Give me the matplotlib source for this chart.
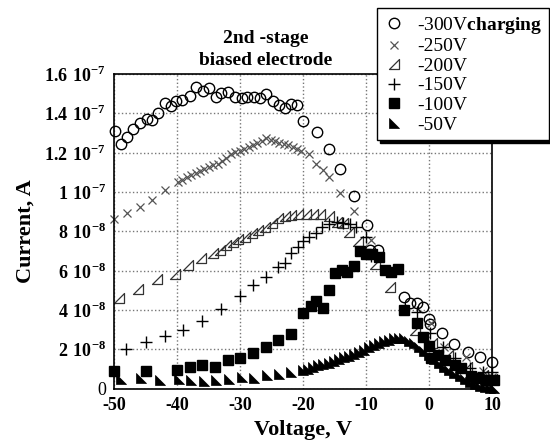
import numpy as np
import matplotlib
matplotlib.use("Agg")
import matplotlib.pyplot as plt
from matplotlib.path import Path

plt.rcParams['font.family'] = ['Liberation Serif', 'DejaVu Serif']
plt.rcParams['mathtext.fontset'] = 'custom'
plt.rcParams['mathtext.rm'] = 'Liberation Serif:bold'
plt.rcParams['mathtext.bf'] = 'Liberation Serif:bold'

# -300V charging (current in units of 1e-8 A)
v300 = [-49.9, -49.0, -48.0, -47.0, -46.0, -44.9, -44.0, -43.0, -42.0, -41.0,
        -40.2, -39.2, -38.0, -37.0, -35.9, -34.9, -33.9, -33.0, -31.9, -30.9,
        -29.8, -29.0, -27.9, -26.9, -25.9, -24.8, -23.9, -22.9, -22.0, -21.0,
        -20.0, -17.9, -16.0, -14.1, -12.0, -9.95, -9.4, -8.1, -4.0, -3.0,
        -2.0, -1.0, 0.0, 0.1, 2.0, 4.0, 6.1, 8.0, 10.0]
i300 = [13.1, 12.44, 12.78, 13.19, 13.49, 13.73, 13.66, 14.03, 14.51, 14.37,
        14.64, 14.68, 14.88, 15.35, 15.12, 15.29, 14.85, 15.02, 15.08, 14.81,
        14.78, 14.81, 14.85, 14.78, 14.98, 14.64, 14.44, 14.27, 14.47, 14.41,
        13.6, 13.05, 12.17, 11.15, 9.8, 8.31, 7.05, 7.05, 4.65, 4.34,
        4.34, 4.14, 3.55, 3.29, 2.81, 2.27, 1.88, 1.62, 1.38]

# -250V
v250 = [-50.0, -48.0, -46.0, -44.0, -42.0, -39.9, -39.2, -38.5, -37.8, -37.1,
        -36.4, -35.7, -35.0, -34.3, -33.6, -32.9, -32.2, -31.5, -30.8, -30.1,
        -29.4, -28.7, -28.0, -27.3, -26.6, -25.9, -25.2, -24.5, -23.8, -23.1,
        -22.4, -21.7, -21.0, -20.3, -19.1, -18.0, -16.9, -16.0, -14.1, -12.0,
        -9.2, 0.3, 2.3, 5.8, 8.5, 10.0]
i250 = [8.63, 8.93, 9.25, 9.59, 10.12, 10.52, 10.62, 10.75, 10.88, 10.97,
        11.05, 11.15, 11.25, 11.35, 11.45, 11.58, 11.75, 11.92, 12.05, 12.08,
        12.2, 12.3, 12.4, 12.5, 12.62, 12.73, 12.65, 12.6, 12.5, 12.45,
        12.38, 12.28, 12.2, 12.1, 11.93, 11.42, 11.12, 10.78, 9.96, 9.05,
        7.56, 3.32, 2.14, 1.6, 0.9, 0.6]

# -200V
v200 = [-49.3, -46.2, -43.25, -40.3, -38.3, -36.3, -34.3, -33.2, -32.2, -31.1,
        -30.3, -29.3, -28.2, -27.2, -26.1, -25.0, -24.0, -22.9, -21.9, -20.8,
        -19.5, -18.4, -17.4, -16.0, -14.7, -13.7, -12.7, -11.3, -8.6, -6.25,
        -2.3, 0.5, 3.0, 6.0, 8.5, 10.0]
i200 = [4.6, 5.05, 5.56, 5.83, 6.29, 6.63, 6.88, 7.05, 7.3, 7.47,
        7.6, 7.73, 7.9, 8.07, 8.24, 8.41, 8.66, 8.78, 8.83, 8.88,
        8.88, 8.88, 8.88, 8.78, 8.49, 8.41, 7.98, 7.52, 6.34, 5.19,
        2.97, 2.3, 1.7, 1.1, 0.7, 0.5]

# -150V
v150 = [-48.1, -45.0, -42.0, -39.1, -36.1, -33.0, -30.1, -28.0, -26.0, -24.1,
        -22.9, -21.9, -20.9, -20.0, -19.1, -18.0, -17.0, -15.9, -14.7, -13.7,
        -12.6, -11.6, -10.1, -9.2, -2.0, 0.1, 2.2, 4.1, 6.45, 8.6, 10.0]
i150 = [2.0, 2.37, 2.68, 2.98, 3.46, 4.07, 4.71, 5.27, 5.69, 6.17,
        6.41, 6.88, 7.19, 7.5, 7.73, 7.93, 8.2, 8.37, 8.49, 8.45,
        8.36, 8.24, 7.73, 6.75, 3.9, 2.82, 2.14, 1.55, 1.04, 0.87, 0.87]

# -100V
v100 = [-50.0, -45.0, -40.0, -38.0, -36.1, -34.0, -32.0, -30.1, -28.0, -26.0,
        -24.1, -22.0, -20.0, -18.8, -18.0, -16.9, -15.9, -15.0, -13.9, -13.0,
        -11.9, -11.0, -10.05, -9.1, -8.0, -7.1, -6.0, -4.9, -3.95, -2.0,
        -0.96, 0.0, 0.25, 1.4, 2.5, 4.1, 5.1, 6.7, 7.8, 9.1, 10.2]
i100 = [0.9, 0.9, 0.95, 1.09, 1.19, 1.12, 1.46, 1.56, 1.83, 2.14,
        2.48, 2.78, 3.86, 4.2, 4.46, 4.12, 5.04, 5.86, 6.06, 5.91,
        6.24, 7.0, 6.83, 6.83, 6.71, 6.04, 5.93, 6.07, 4.0, 3.34,
        2.63, 2.19, 1.56, 1.73, 1.47, 1.22, 1.05, 0.66, 0.54, 0.46, 0.46]

# -50V
v50 = [-48.9, -45.7, -42.8, -39.8, -37.9, -35.7, -33.8, -31.8, -29.7, -27.8,
       -25.8, -23.9, -21.9, -20.0, -19.2, -18.4, -17.6, -16.8, -16.0, -15.2,
       -14.4, -13.6, -12.8, -12.0, -11.2, -10.4, -9.6, -8.8, -8.0, -7.2,
       -6.4, -5.6, -4.8, -4.0, -3.2, -2.4, -1.6, -0.8, 0.0, 0.8,
       1.6, 2.4, 3.2, 4.0, 4.8, 5.6, 6.4, 7.2, 8.0, 8.8, 9.6, 10.2]
i50 = [0.48, 0.53, 0.44, 0.48, 0.44, 0.41, 0.44, 0.48, 0.61, 0.53,
       0.7, 0.75, 0.87, 0.95, 1.02, 1.1, 1.18, 1.28, 1.33, 1.42,
       1.52, 1.6, 1.68, 1.76, 1.88, 1.98, 2.1, 2.2, 2.32, 2.42,
       2.5, 2.56, 2.6, 2.56, 2.45, 2.3, 2.12, 1.92, 1.72, 1.52,
       1.32, 1.12, 0.94, 0.78, 0.62, 0.48, 0.36, 0.25, 0.16, 0.09, 0.04, 0.02]

yticks = [0, 2e-8, 4e-8, 6e-8, 8e-8, 1e-7, 1.2e-7, 1.4e-7, 1.6e-7]
ytick_labels = ['0', r'$2\ 10^{-8}$', r'$4\ 10^{-8}$', r'$6\ 10^{-8}$', r'$8\ 10^{-8}$',
                r'$1\ 10^{-7}$', r'$1.2\ 10^{-7}$', r'$1.4\ 10^{-7}$', r'$1.6\ 10^{-7}$']
xticks = [-50, -40, -30, -20, -10, 0, 10]

# right-angle triangle markers
tri_open = Path([(-1, -1), (1, -1), (1, 1), (-1, -1)],
                [Path.MOVETO, Path.LINETO, Path.LINETO, Path.CLOSEPOLY])
tri_fill = Path([(-1, 1), (-1, -1), (1, -1), (-1, 1)],
                [Path.MOVETO, Path.LINETO, Path.LINETO, Path.CLOSEPOLY])

fig = plt.figure(figsize=(5.5, 4.46), dpi=100)
ax = fig.add_axes([0.208, 0.1285, 0.687, 0.7055])

s = 1e-8
kw = dict(linestyle='none', clip_on=False)
ax.plot(v300, np.array(i300) * s, marker='o', ms=7.5, mfc='none', mec='black', mew=1.0,
        label=r'-300V$\mathbf{charging}$', **kw)
ax.plot(v250, np.array(i250) * s, marker='x', ms=5.5, mec='#555555', mew=0.9,
        label='-250V', **kw)
ax.plot(v200, np.array(i200) * s, marker=tri_open, ms=6.5, mfc='none', mec='#333333', mew=0.9,
        label='-200V', **kw)
ax.plot(v150, np.array(i150) * s, marker='+', ms=8, mec='black', mew=1.0,
        label='-150V', **kw)
ax.plot(v100, np.array(i100) * s, marker='s', ms=6.5, mfc='black', mec='black',
        label='-100V', **kw)
ax.plot(v50, np.array(i50) * s, marker=tri_fill, ms=6.5, mfc='black', mec='black', mew=0.5,
        label='-50V', **kw)

ax.set_xlim(-50, 10)
ax.set_ylim(0, 1.6e-7)
ax.set_xticks(xticks)
ax.set_xticklabels([str(t) for t in xticks], fontsize=13, fontweight='bold')
ax.set_yticks(yticks)
ax.set_yticklabels(ytick_labels, fontsize=13)
ax.tick_params(length=0, pad=6)
ax.grid(True, linestyle=':', color='#777777', linewidth=1.0)
ax.set_axisbelow(True)
for sp in ax.spines.values():
    sp.set_linewidth(1.2)

ax.set_xlabel('Voltage, V', fontsize=16, fontweight='bold', labelpad=4)
ax.set_ylabel('Current, A', fontsize=16, fontweight='bold', labelpad=6)

ax.text(0.40, 1.015, '2nd -stage\nbiased electrode', transform=ax.transAxes,
        ha='center', va='bottom', fontsize=14, fontweight='bold', linespacing=1.4)

leg = ax.legend(loc='upper left', bbox_to_anchor=(377 / 550, 1 - 8 / 446),
                bbox_transform=fig.transFigure, fontsize=14, frameon=True,
                fancybox=False, edgecolor='black', framealpha=1,
                shadow={'color': 'black', 'alpha': 1},
                handlelength=1.0, handletextpad=0.7, labelspacing=0.1,
                borderpad=0.35, borderaxespad=0)
leg.get_frame().set_linewidth(1.0)

fig.savefig('out.png', dpi=100)
